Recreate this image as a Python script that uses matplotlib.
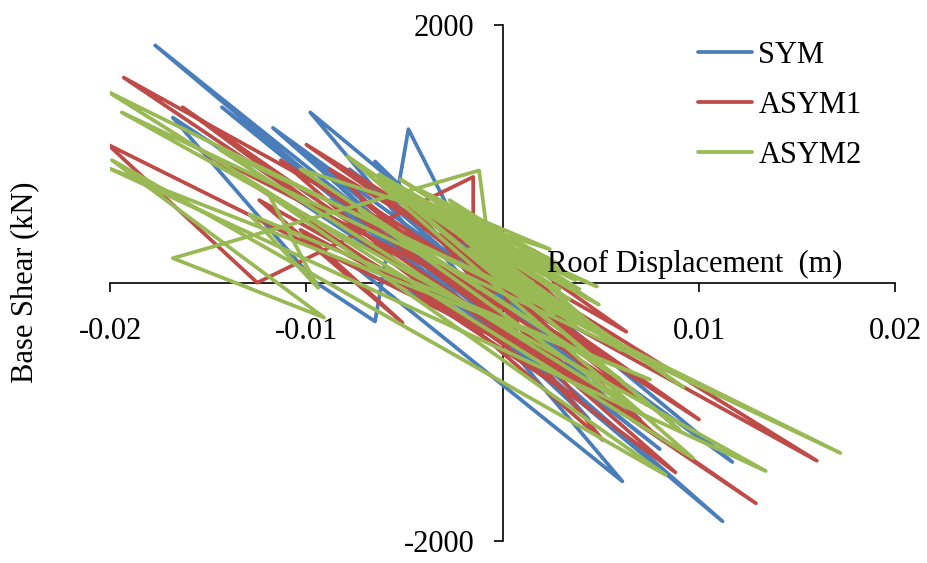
import matplotlib
matplotlib.use("Agg")
import matplotlib.pyplot as plt

plt.rcParams["font.family"] = ["Liberation Serif", "DejaVu Serif"]

# Roof displacement (m) / base shear (kN) histories
sym_x = [0, 0.0011, -0.0008, 0.0023, -0.0021, 0.0037, -0.0032, 0.0040, -0.0024, 0.0049,
         -0.0037, 0.0029, -0.0078, 0.0070, -0.0058, 0.0054, -0.0103, 0.0044, -0.0042, 0.0034,
         -0.0088, 0.0009, -0.0143, 0.0080, -0.0177, 0.0112, -0.0117, 0.0117, -0.0098, 0.0061,
         -0.0073, 0.0049, -0.0065, 0.0019, -0.0168, -0.0095, -0.0065, -0.0048, -0.0017, 0.0009,
         -0.0007, 0.0001]
sym_y = [0, -130, 100, -300, 280, -400, 470, -430, 410, -870,
         570, -360, 880, -1060, 720, -910, 1030, -1060, 410, -600,
         640, -520, 1360, -1290, 1840, -1850, 1200, -1390, 1320, -1540,
         100, -750, 940, -600, 1280, 0, -300, 1190, 260, -130,
         60, -50]

asym1_x = [0, 0.0010, -0.0008, 0.0019, -0.0017, 0.0029, -0.0023, 0.0063, -0.0042, 0.0051,
           -0.0113, 0.0070, -0.0058, 0.0054, -0.0154, 0.0039, -0.0032, 0.0075, -0.0078, 0.0009,
           -0.0017, 0.0039,
           -0.0088, 0.0088, -0.0163, 0.0129, -0.0193, 0.0160, -0.0100, 0.0100, -0.0072, 0.0044,
           -0.0124, -0.0051, -0.0103, 0.0029, -0.0201, -0.0125, -0.0015, -0.0015, 0.0014, -0.0004,
           0.0004]
asym1_y = [0, -110, 100, -220, 220, -360, 540, -380, 530, -1220,
           950, -910, 640, -600, 1030, -910, 410, -1140, 560, -360,
           490, -290,
           880, -1470, 1360, -1710, 1590, -1380, 1070, -1060, 640, -790,
           640, -310, 410, -670, 1070, 0, 820, -20, -130, 40,
           -50]

asym2_x = [0, 0.0009, -0.0007, 0.0014, -0.0012, 0.0021, -0.0017, 0.0026, -0.0019, 0.0019,
           -0.0014, 0.0029, -0.0024, 0.0037, -0.0027, 0.0048, -0.0032, 0.0044, -0.0037, 0.0060,
           -0.0027, 0.0029, -0.0032, 0.0034, -0.0024, 0.0024, -0.0037, 0.0029, -0.0019, 0.0021,
           -0.0029, 0.0034, -0.0022, 0.0014,
           -0.0063, 0.0039, -0.0052, 0.0044, -0.0042, 0.0029, -0.0058, 0.0037, -0.0047, 0.0049,
           -0.0035, 0.0024,
           -0.0103, 0.0060, -0.0073, 0.0075, -0.0144, 0.0049, -0.0063, 0.0090,
           -0.0052, 0.0092, -0.0079, 0.0097, -0.0201, 0.0172, -0.0194, 0.0134, -0.0201, 0.0075,
           -0.0129, -0.0094, -0.0119, 0.0083, -0.0199, -0.0091, -0.0168, -0.0012, -0.0007, 0.0029,
           -0.0017, 0.0039, -0.0022, 0.0019, -0.0009, 0.0011, -0.0004, 0.0004]
asym2_y = [0, -70, 100, -130, 190, -170, 260, -250, 330, -130,
           290, -210, 410, -330, 450, -30, 530, -360, 600, -520,
           640, 100, 640, -20, 570, 180, 680, 20, 490, 60,
           530, -130, 410, 100,
           840, -50, 800, -130, 720, 140, 760, 20, 640, -170,
           640, 260,
           880, -750, 560, -1060, 1030, -360, 800, -1140,
           680, -810, 980, -1360, 1480, -1320, 1320, -1460, 890, -750,
           530, -40, 680, -1490, 950, -270, 190, 870, 280, -50,
           330, -290, 370, -90, 160, -50, 60, -20]

series = [
    ("SYM", sym_x, sym_y, "#4A7EBB"),
    ("ASYM1", asym1_x, asym1_y, "#BE4B48"),
    ("ASYM2", asym2_x, asym2_y, "#98B954"),
]

x_ticks = [-0.02, -0.01, 0, 0.01, 0.02]
x_tick_labels = ["-0.02", "-0.01", "0", "0.01", "0.02"]
y_ticks = [-2000, 0, 2000]
y_tick_labels = ["-2000", "0", "2000"]

W, H = 928, 563
fig = plt.figure(figsize=(W / 100, H / 100), dpi=100)
ax = fig.add_axes([110 / W, 1 - 540.7 / H, (895.3 - 110) / W, (540.7 - 24.7) / H])

for name, xs, ys, col in series:
    ax.plot(xs, ys, color=col, lw=2.7, label=name,
            solid_joinstyle="round", solid_capstyle="round")

ax.set_xlim(-0.02, 0.02)
ax.set_ylim(-2000, 2000)
ax.set_xticks(x_ticks)
ax.set_xticklabels(x_tick_labels)
ax.set_yticks(y_ticks)
ax.set_yticklabels(y_tick_labels)

for side in ("top", "right"):
    ax.spines[side].set_visible(False)
ax.spines["left"].set_position(("data", 0))
ax.spines["bottom"].set_position(("data", 0))
for side in ("left", "bottom"):
    ax.spines[side].set_linewidth(1.2)
    ax.spines[side].set_zorder(0.5)

ax.tick_params(axis="both", direction="out", length=6.5, width=1.2, labelsize=22)
ax.tick_params(axis="x", pad=18)
ax.tick_params(axis="y", pad=14)

ax.legend(loc="upper left", bbox_to_anchor=(698 / W, 1 - 41 / H),
          bbox_transform=fig.transFigure, frameon=False, fontsize=22,
          handlelength=1.78, handletextpad=0.2, labelspacing=0.68,
          borderpad=0, borderaxespad=0)

fig.text(547 / W, 1 - 272 / H, "Roof Displacement  (m)", fontsize=22,
         ha="left", va="baseline")
fig.text(25 / W, 1 - 282 / H, "Base Shear (kN)", fontsize=22,
         ha="center", va="center", rotation=90)

fig.savefig("out.png", dpi=100)
